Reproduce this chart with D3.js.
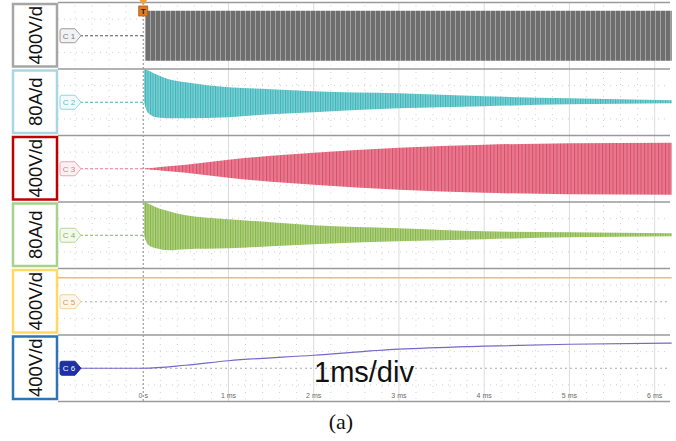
<!DOCTYPE html>
<html><head><meta charset="utf-8">
<script src="https://cdn.jsdelivr.net/npm/d3@7"></script>
<style>body{margin:0;background:#fff}svg{display:block}</style>
</head><body>
<svg id="c" width="676" height="441"></svg>
<script>
// ---- data ----
const channels = ["C1","C2","C3","C4","C5","C6"];
const scaleLabels = ["400V/d","80A/d","400V/d","80A/d","400V/d","400V/d"];
const perDiv = [400,80,400,80,400,400];
const timeTicks = [0,1,2,3,4,5,6];
const timeTickLabels = ["0 s","1 ms","2 ms","3 ms","4 ms","5 ms","6 ms"];
const envTime = [0,0.05,0.15,0.3,0.5,1,1.5,2,3,4,5,6.2];
const c1Upper = [600,600,600,600,600,600,600,600,600,600,600,600];
const c1Lower = [-600,-600,-600,-600,-600,-600,-600,-600,-600,-600,-600,-600];
const c2Upper = [159,154,135,111,96,72,63,53,43,29,19,10];
const c2Lower = [0,-48,-72,-77,-77,-72,-58,-48,-29,-19,-10,-5];
const c3Upper = [0,10,30,60,96,217,313,386,506,578,615,627];
const c3Lower = [0,-10,-30,-60,-96,-217,-313,-386,-506,-578,-615,-627];
const c4Upper = [159,154,135,116,96,77,63,48,34,19,14,10];
const c4Lower = [0,-43,-63,-72,-67,-63,-53,-43,-29,-19,-10,-5];
const c5Time = [-1,6.2];
const c5Values = [578,578];
const c6Time = [-1,0,0.5,1,2,3,4,5,6.2];
const c6Values = [0,0,72,180,313,458,530,578,603];

// ---- layout ----
const svg = d3.select("#c");
const x0 = 58, x1 = 670;
const x = d3.scaleLinear().domain([-1, 6.18]).range([x0, x1]);
const panelTop = 2.5, panelH = 66.5;
const boxColors = ["#a6a6a6","#a9d6e3","#c00000","#a9d18e","#ffd966","#2e75b6"];
const markStroke = ["#9a9a9a","#8fd6dc","#f1a3b3","#b5d98d","#f5cf9a","#1f2fa8"];
const markText = ["#7a7a7a","#5bbfc6","#e8798f","#86b55a","#d09a60","#ffffff"];
const markFill = ["#f2f2f2","#f2fbfb","#fdf0f2","#f3f9ec","#fdf6ec","#1f2fa8"];

function yScale(i){
  const top = panelTop + i*panelH;
  return d3.scaleLinear().domain([-2*perDiv[i], 2*perDiv[i]]).range([top+panelH, top]);
}

// patterns
const defs = svg.append("defs");
function stripe(id, base, line, w){
  const p = defs.append("pattern").attr("id", id).attr("patternUnits","userSpaceOnUse")
    .attr("width", w).attr("height", 10);
  p.append("rect").attr("width", w).attr("height", 10).attr("fill", base);
  p.append("rect").attr("x", 0).attr("width", 1).attr("height", 10).attr("fill", line);
}
stripe("p1", "#6e6e6e", "#a3a3a3", 5);
stripe("p2", "#79d0d4", "#3fb3b9", 2.5);
stripe("p3", "#e9788e", "#d5506b", 3.5);
stripe("p4", "#afd07e", "#86b44a", 2.5);

// grid per panel
channels.forEach((c, i) => {
  const top = panelTop + i*panelH;
  const g = svg.append("g");
  const minor = d3.range(-1, 6.2, 0.2).filter(t => Math.abs(t - Math.round(t)) > 0.01);
  g.selectAll(".mv").data(minor).join("line")
    .attr("x1", d => x(d)).attr("x2", d => x(d))
    .attr("y1", top+3).attr("y2", top+panelH-3)
    .attr("stroke", "#d0d0d0").attr("stroke-width", 1).attr("stroke-dasharray", "1,5");
  g.selectAll(".Mv").data([1,2,3,4,5,6]).join("line")
    .attr("x1", d => x(d)).attr("x2", d => x(d))
    .attr("y1", top).attr("y2", top+panelH)
    .attr("stroke", "#dcdcdc").attr("stroke-width", 1);
  g.selectAll(".h").data([0.25, 0.75]).join("line")
    .attr("x1", x0).attr("x2", x1)
    .attr("y1", d => top + d*panelH).attr("y2", d => top + d*panelH)
    .attr("stroke", "#d0d0d0").attr("stroke-width", 1).attr("stroke-dasharray", "1,5");
});

// trigger line
svg.append("line").attr("x1", x(0)).attr("x2", x(0)).attr("y1", 3).attr("y2", 401)
  .attr("stroke", "#8a8a8a").attr("stroke-width", 1).attr("stroke-dasharray", "2,2");

// reference level lines
const refStyles = [
  {c:"#555", d:"3,2"}, {c:"#3fb3b9", d:"3,2"}, {c:"#e8798f", d:"3,2"},
  {c:"#86b55a", d:"3,2"}, {c:"#aaaaaa", d:"2,3"}, {c:"#aaaaaa", d:"2,3"}];
channels.forEach((c, i) => {
  const y = yScale(i);
  svg.append("line").attr("x1", 80).attr("x2", i === 0 ? x(0) : x1)
    .attr("y1", y(0)).attr("y2", y(0))
    .attr("stroke", refStyles[i].c).attr("stroke-width", 1).attr("stroke-dasharray", refStyles[i].d);
});

// envelopes
const envs = [[c1Upper,c1Lower,"p1"],[c2Upper,c2Lower,"p2"],[c3Upper,c3Lower,"p3"],[c4Upper,c4Lower,"p4"]];
envs.forEach(([up, lo, pid], i) => {
  const y = yScale(i);
  const pts = envTime.map((t, k) => ({t, u: up[k], l: lo[k]}));
  const area = d3.area().x(d => x(Math.max(d.t, i===0 ? 0.02 : 0.01))).y0(d => y(d.l)).y1(d => y(d.u))
    .curve(i===0 ? d3.curveLinear : d3.curveMonotoneX);
  svg.append("path").datum(pts).attr("d", area).attr("fill", `url(#${pid})`);
});

// C5 line
{
  const y = yScale(4);
  svg.append("path").datum(c5Time.map((t,k)=>({t, v:c5Values[k]})))
    .attr("d", d3.line().x(d => x(d.t)).y(d => y(d.v)))
    .attr("fill","none").attr("stroke","#f4b67a").attr("stroke-width",1.5);
}
// C6 line
{
  const y = yScale(5);
  svg.append("path").datum(c6Time.map((t,k)=>({t, v:c6Values[k]})))
    .attr("d", d3.line().x(d => x(d.t)).y(d => y(d.v)).curve(d3.curveMonotoneX))
    .attr("fill","none").attr("stroke","#7468c8").attr("stroke-width",1.2);
}

// separators
d3.range(7).forEach(k => {
  svg.append("line").attr("x1", x0).attr("x2", x1)
    .attr("y1", panelTop + k*panelH).attr("y2", panelTop + k*panelH)
    .attr("stroke", "#9a9a9a").attr("stroke-width", 1.5);
});

// label boxes
channels.forEach((c, i) => {
  const top = panelTop + i*panelH;
  svg.append("rect").attr("x", 13).attr("y", top+1.5).attr("width", 44).attr("height", panelH-4)
    .attr("fill", "#fff").attr("stroke", boxColors[i]).attr("stroke-width", 2.5);
  svg.append("text").attr("transform", `translate(42,${top+panelH/2-0.5}) rotate(-90)`)
    .attr("text-anchor","middle").attr("font-family","Liberation Sans, Arial, sans-serif")
    .attr("font-size", 18.5).attr("fill","#111").text(scaleLabels[i]);
});

// channel markers
channels.forEach((c, i) => {
  const yc = yScale(i)(0);
  const mx = 60;
  svg.append("path")
    .attr("d", `M${mx+2},${yc-7} L${mx+15},${yc-7} L${mx+21},${yc} L${mx+15},${yc+7} L${mx+2},${yc+7} Q${mx},${yc+7} ${mx},${yc+5} L${mx},${yc-5} Q${mx},${yc-7} ${mx+2},${yc-7} Z`)
    .attr("fill", markFill[i]).attr("stroke", markStroke[i]).attr("stroke-width", 1);
  svg.append("text").attr("x", mx+9).attr("y", yc+3).attr("text-anchor","middle")
    .attr("font-family","Liberation Sans, Arial, sans-serif").attr("font-size", 8)
    .attr("fill", markText[i]).text(c.replace("C","C "));
});

// trigger marker
{
  const tx = x(0);
  svg.append("path").attr("d", `M${tx-4},0 L${tx+4},0 L${tx},5 Z`).attr("fill","#f39c3c");
  svg.append("rect").attr("x", tx-4.5).attr("y", 6).attr("width", 9).attr("height", 10)
    .attr("fill", "#e07b20").attr("stroke","#b05a10").attr("stroke-width",0.8);
  svg.append("text").attr("x", tx).attr("y", 14).attr("text-anchor","middle")
    .attr("font-family","Liberation Sans, Arial, sans-serif").attr("font-size", 8)
    .attr("font-weight","bold").attr("fill","#222").text("T");
}

// time labels
svg.selectAll(".tl").data(timeTicks).join("text")
  .attr("x", d => x(d)).attr("y", 398).attr("text-anchor","middle")
  .attr("font-family","Liberation Sans, Arial, sans-serif").attr("font-size", 7)
  .attr("fill","#6a6a6a").text((d,k) => timeTickLabels[k]);

// annotations
svg.append("text").attr("x", 364).attr("y", 382).attr("text-anchor","middle")
  .attr("font-family","Liberation Sans, Arial, sans-serif").attr("font-size", 29)
  .attr("fill","#111").text("1ms/div");
svg.append("text").attr("x", 341).attr("y", 429).attr("text-anchor","middle")
  .attr("font-family","Liberation Serif, Times New Roman, serif").attr("font-size", 22)
  .attr("fill","#111").text("(a)");
</script>
</body></html>
